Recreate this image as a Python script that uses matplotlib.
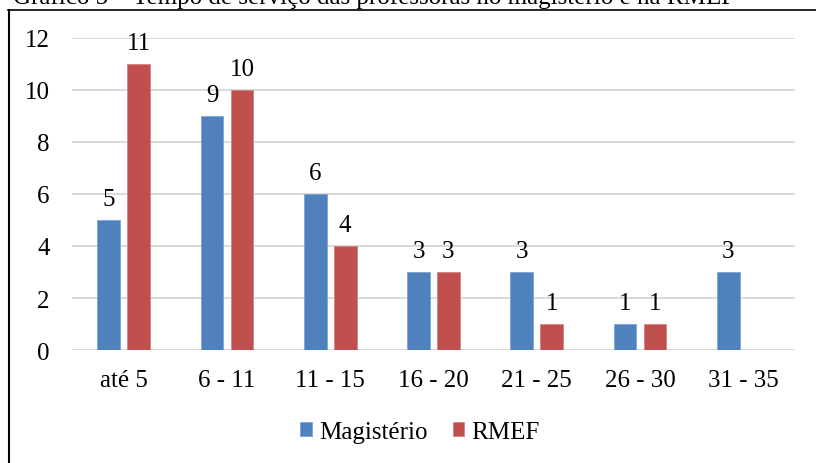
import numpy as np
import matplotlib.pyplot as plt
from matplotlib.lines import Line2D

# dados do gráfico
categorias = ['até 5', '6 - 11', '11 - 15', '16 - 20', '21 - 25', '26 - 30', '31 - 35']
magisterio = [5, 9, 6, 3, 3, 1, 3]
rmef = [11, 10, 4, 3, 1, 1, 0]

plt.rcParams['font.family'] = ['Liberation Serif', 'DejaVu Serif']
FS = 18

W, H = 816, 464
fig = plt.figure(figsize=(W / 100, H / 100), dpi=100)
ax = fig.add_axes([72 / W, 1 - 351 / H, (795 - 72) / W, (351 - 39) / H])

x = np.arange(len(categorias))
w, off = 0.22, 0.145
b1 = ax.bar(x - off, magisterio, w, color='#4f81bd', edgecolor='#7fa3d3', lw=0.6,
            label='Magistério', zorder=3)
b2 = ax.bar(x + off, rmef, w, color='#c0504d', edgecolor='#d68380', lw=0.6,
            label='RMEF', zorder=3)

# rótulos de dados
for bars, vals in ((b1, magisterio), (b2, rmef)):
    for r, v in zip(bars, vals):
        if v == 0:
            continue
        ax.annotate(str(v), (r.get_x() + r.get_width() / 2, v), xytext=(0, 7.5),
                    textcoords='offset points', ha='center', va='bottom', fontsize=FS)

ax.set_xlim(-0.5, len(categorias) - 0.5)
ax.set_ylim(0, 12)
ax.set_yticks(range(0, 13, 2))
ax.set_xticks(x)
ax.set_xticklabels(categorias)
ax.tick_params(axis='both', length=0, labelsize=FS)
ax.tick_params(axis='y', pad=16)
ax.tick_params(axis='x', pad=14)
ax.grid(axis='y', color='#d9d9d9', lw=1.4, zorder=0)
ax.set_axisbelow(True)
for s in ax.spines.values():
    s.set_visible(False)

fig.legend(loc='center', bbox_to_anchor=(420 / W, 1 - 433 / H), ncol=2, frameon=False,
           fontsize=FS, handlelength=0.45, handleheight=0.45, handletextpad=0.3,
           columnspacing=1.0)

# moldura e título cortado
fig.add_artist(Line2D([8 / W, 1], [1 - 11 / H, 1 - 11 / H], color='black', lw=1.2))
fig.add_artist(Line2D([9 / W, 9 / W], [1 - 11 / H, 0], color='black', lw=1.5))
fig.text(13 / W, 1 - 4 / H, 'Gráfico 5 – Tempo de serviço das professoras no magistério e na RMEF',
         va='baseline', fontsize=FS)

fig.savefig('out.png', dpi=100)
